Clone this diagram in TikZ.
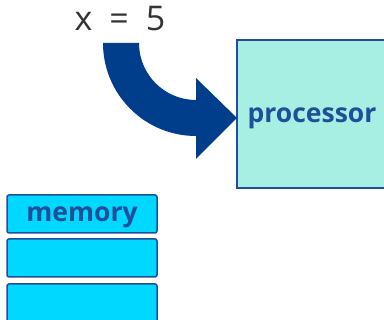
\documentclass[tikz,border=0pt]{standalone}
\usepackage{fontspec}
\setmainfont{Open Sans}
\definecolor{arrowblue}{HTML}{003E8C}
\definecolor{edgeblue}{HTML}{1F4E9A}
\definecolor{procfill}{HTML}{A6EFE2}
\definecolor{memfill}{HTML}{00D8FF}
\definecolor{textgray}{HTML}{333333}
\tikzset{
  procbox/.style={fill=procfill, draw=edgeblue, line width=1.5pt},
  membox/.style={fill=memfill, draw=edgeblue, line width=1.5pt, rounded corners=2pt},
  lbl/.style={font=\bfseries\fontsize{26.5}{30}\selectfont, text=edgeblue, inner sep=0pt, anchor=base},
}
\begin{document}
\begin{tikzpicture}[x=1pt,y=1pt]
\useasboundingbox (0,0) rectangle (384,-320);
% expression
\node[font=\fontsize{34}{38}\selectfont, text=textgray, inner sep=0pt, anchor=base] (expr) at (120,-31) {x\hspace{0.5em}=\hspace{0.5em}5};
% processor
\draw[procbox] (237,-40) rectangle (387,-188);
\node[lbl] (proc) at (312,-123) {processor};
% memory
\draw[membox] (7,-195) rectangle (157,-233);
\draw[membox] (7,-239) rectangle (157,-277);
\draw[membox] (7,-284) rectangle (157,-330);
\node[lbl] (mem) at (82,-222) {memory};
% curved arrow
\coordinate (c) at (196,-43);
\fill[arrowblue] (103,-43) arc[start angle=180, end angle=270, radius=93]
  -- (196,-159) -- (237,-118) -- (196,-78) -- (196,-100)
  arc[start angle=270, end angle=180, radius=57] -- cycle;
\end{tikzpicture}
\end{document}
